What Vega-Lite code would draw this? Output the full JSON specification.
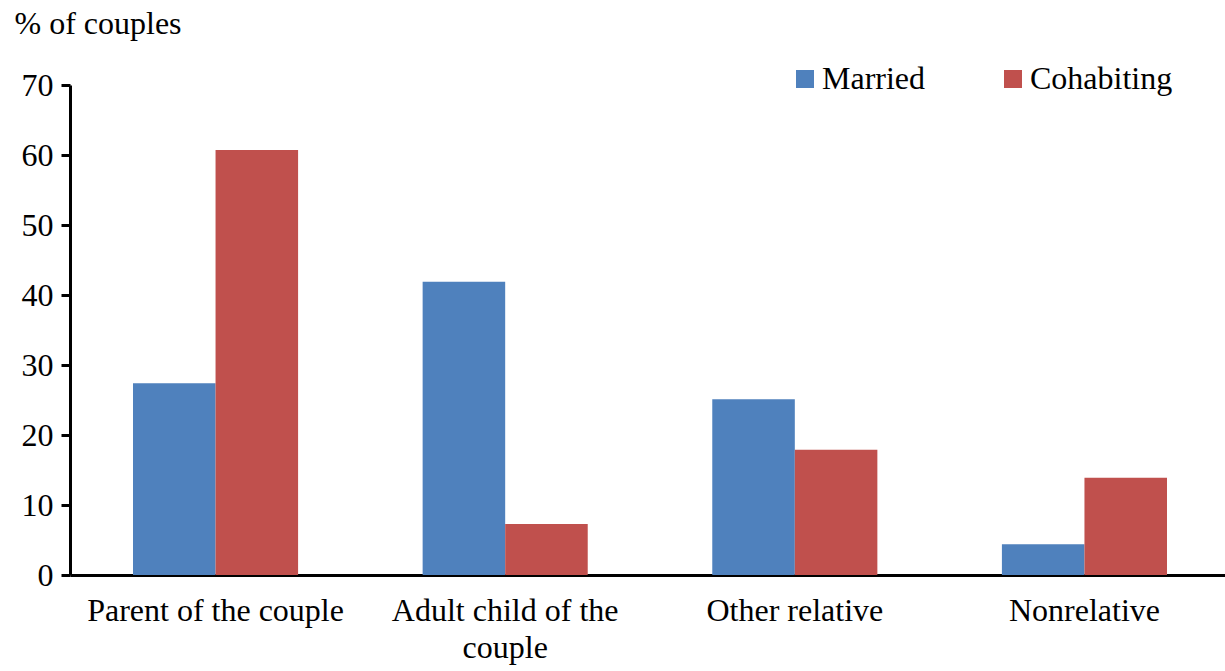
{
  "$schema": "https://vega.github.io/schema/vega-lite/v6.json",
  "width": 1160,
  "height": 490,
  "autosize": "none",
  "padding": {"left": 70, "top": 85, "right": 0, "bottom": 96},
  "background": "white",
  "config": {
    "view": {"stroke": null},
    "font": "Liberation Serif",
    "axis": {"labelFont": "Liberation Serif", "titleFont": "Liberation Serif", "labelColor": "black", "titleColor": "black"},
    "legend": {"labelFont": "Liberation Serif", "labelColor": "black"}
  },
  "data": {
    "values": [
      {"relation": "Parent of the couple", "status": "Married", "pct": 27.4},
      {"relation": "Parent of the couple", "status": "Cohabiting", "pct": 60.7},
      {"relation": "Adult child of the couple", "status": "Married", "pct": 41.9},
      {"relation": "Adult child of the couple", "status": "Cohabiting", "pct": 7.3},
      {"relation": "Other relative", "status": "Married", "pct": 25.1},
      {"relation": "Other relative", "status": "Cohabiting", "pct": 17.9},
      {"relation": "Nonrelative", "status": "Married", "pct": 4.4},
      {"relation": "Nonrelative", "status": "Cohabiting", "pct": 13.9}
    ]
  },
  "mark": {"type": "bar"},
  "encoding": {
    "x": {
      "field": "relation",
      "type": "nominal",
      "sort": ["Parent of the couple", "Adult child of the couple", "Other relative", "Nonrelative"],
      "scale": {"paddingInner": 0.43, "paddingOuter": 0.2175},
      "axis": {
        "title": null,
        "labelAngle": 0,
        "labelFontSize": 32,
        "labelPadding": 20,
        "labelLineHeight": 37,
        "labelLimit": 400,
        "ticks": false,
        "domainColor": "black",
        "domainWidth": 3,
        "labelExpr": "datum.label == 'Adult child of the couple' ? ['Adult child of the', 'couple'] : datum.label"
      }
    },
    "xOffset": {
      "field": "status",
      "type": "nominal",
      "sort": ["Married", "Cohabiting"],
      "scale": {"paddingInner": 0, "paddingOuter": 0}
    },
    "y": {
      "field": "pct",
      "type": "quantitative",
      "scale": {"domain": [0, 70], "nice": false},
      "axis": {
        "title": "% of couples",
        "titleAngle": 0,
        "titleAlign": "left",
        "titleBaseline": "alphabetic",
        "titleX": -56,
        "titleY": -52,
        "titleFontSize": 32,
        "titleFontWeight": "normal",
        "values": [0, 10, 20, 30, 40, 50, 60, 70],
        "grid": false,
        "labelFontSize": 32,
        "labelPadding": 8,
        "tickSize": 9,
        "tickWidth": 3,
        "tickColor": "black",
        "domainColor": "black",
        "domainWidth": 3
      }
    },
    "color": {
      "field": "status",
      "type": "nominal",
      "sort": ["Married", "Cohabiting"],
      "scale": {"domain": ["Married", "Cohabiting"], "range": ["#4F81BD", "#C0504D"]},
      "legend": {
        "title": null,
        "orient": "none",
        "legendX": 719,
        "legendY": -22,
        "direction": "horizontal",
        "columns": 2,
        "columnPadding": 71,
        "symbolType": "square",
        "symbolSize": 324,
        "symbolStrokeWidth": 0,
        "labelFontSize": 32,
        "labelOffset": 1
      }
    }
  }
}
